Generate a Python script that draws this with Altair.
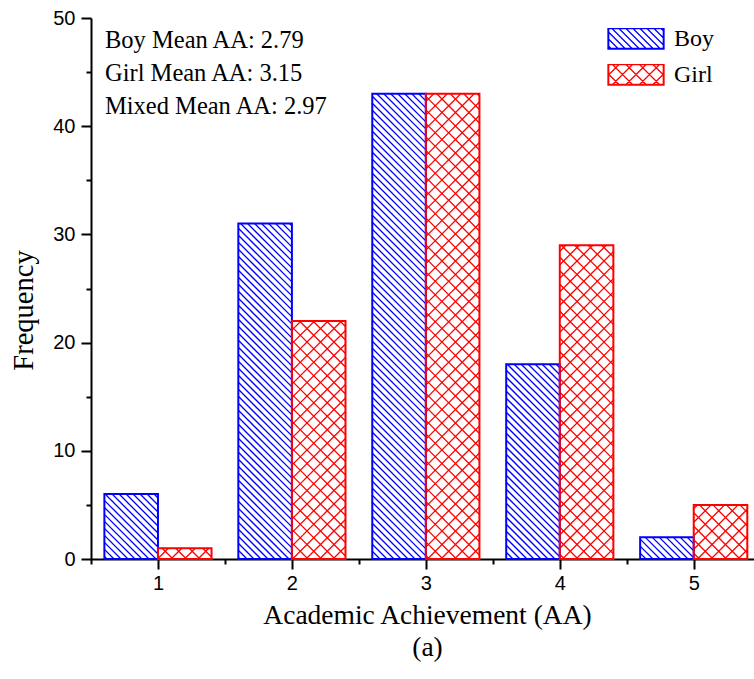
import altair as alt
import numpy as np
import pandas as pd

# ---- data ----------------------------------------------------------------
aa_levels = [1, 2, 3, 4, 5]
boy_freq = [6, 31, 43, 18, 2]
girl_freq = [1, 22, 43, 29, 5]
groups = ["Boy", "Girl"]
group_colors = ["#0000ff", "#ff0000"]
mean_names = ["Boy", "Girl", "Mixed"]
mean_values = [2.79, 3.15, 2.97]
y_major = [0, 10, 20, 30, 40, 50]
y_minor = [5, 15, 25, 35, 45]
x_minor = [0.5, 1.5, 2.5, 3.5, 4.5]

# ---- geometry of the plot area ------------------------------------------
W, H = 663, 541
X_DOM = [0.5, 5.45]
Y_DOM = [0, 50]
BAR = 0.4                      # width of one bar in axis units
KX = W / (X_DOM[1] - X_DOM[0])  # pixels per x unit
KY = H / (Y_DOM[1] - Y_DOM[0])  # pixels per y unit
BOY_STEP = 7.0                  # hatch spacing (px, measured horizontally)
GIRL_STEP = 13.5

colour_of = dict(zip(groups, group_colors))

rows = []
for aa, b, g in zip(aa_levels, boy_freq, girl_freq):
    rows.append({"group": "Boy", "aa": aa, "freq": b, "x0": aa - BAR, "x1": aa})
    rows.append({"group": "Girl", "aa": aa, "freq": g, "x0": aa, "x1": aa + BAR})
bars = pd.DataFrame(rows)
bars["colour"] = bars["group"].map(colour_of)


def hatch_segments(x0, x1, top, step, slopes):
    """45-degree hatch lines clipped to the bar [x0, x1] x [0, top]."""
    px0 = (x0 - X_DOM[0]) * KX
    px1 = (x1 - X_DOM[0]) * KX
    pyt = H - top * KY
    pyb = H
    segs = []
    for s in slopes:  # s = +1 : screen y = x + c ("\"), s = -1 : y = -x + c ("/")
        if s == 1:
            cmin, cmax = pyt - px1, pyb - px0
        else:
            cmin, cmax = pyt + px0, pyb + px1
        for k in range(int(np.ceil(cmin / step)), int(np.floor(cmax / step)) + 1):
            c = k * step
            if s == 1:
                lo, hi = max(px0, pyt - c), min(px1, pyb - c)
            else:
                lo, hi = max(px0, c - pyb), min(px1, c - pyt)
            if hi - lo < 0.5:
                continue
            ya, yb = s * lo + c, s * hi + c
            segs.append((lo / KX + X_DOM[0], (H - ya) / KY,
                         hi / KX + X_DOM[0], (H - yb) / KY))
    return segs


hatch_rows = []
for _, r in bars.iterrows():
    if r["group"] == "Boy":
        segs = hatch_segments(r["x0"], r["x1"], r["freq"], BOY_STEP, [1])
    else:
        segs = hatch_segments(r["x0"], r["x1"], r["freq"], GIRL_STEP, [1, -1])
    for xa, ya, xb, yb in segs:
        hatch_rows.append({"x": xa, "y": ya, "x2": xb, "y2": yb, "colour": r["colour"]})
hatch_df = pd.DataFrame(hatch_rows)


# ---- legend swatches as custom symbol paths (unit box: +-1 wide) -----------
SW, SH = 56.0, 21.0
R = SW / 2.0
HY = SH / 2.0 / R


def swatch_path(step_px, slopes):
    step = step_px / R
    parts = [f"M-1,{-HY:.4f}H1V{HY:.4f}H-1Z",
             f"M-0.975,{-HY + 0.025:.4f}H0.975V{HY - 0.025:.4f}H-0.975Z"]
    for s in slopes:
        cmin, cmax = -HY - 1, HY + 1
        for k in range(int(np.ceil(cmin / step)), int(np.floor(cmax / step)) + 1):
            c = k * step
            if s == 1:
                lo, hi = max(-1, -HY - c), min(1, HY - c)
            else:
                lo, hi = max(-1, c - HY), min(1, c + HY)
            if hi - lo < 0.02:
                continue
            parts.append(f"M{lo:.4f},{s * lo + c:.4f}L{hi:.4f},{s * hi + c:.4f}")
    return "".join(parts)


boy_path = swatch_path(BOY_STEP, [1])
girl_path = swatch_path(GIRL_STEP, [1, -1])

# ---- scales and axes -------------------------------------------------------
x_scale = alt.Scale(domain=X_DOM, nice=False, zero=False)
y_scale = alt.Scale(domain=Y_DOM, nice=False, zero=False)

x_axis = alt.Axis(
    orient="bottom", values=aa_levels, format="d", grid=False, labelAngle=0,
    tickSize=10, tickWidth=2, tickColor="black", domainColor="black", domainWidth=2,
    labelFont="Liberation Sans", labelFontSize=20, labelColor="black", labelPadding=4,
    title=["Academic Achievement (AA)", "(a)"], titleFont="Liberation Serif",
    titleFontSize=27.5, titleFontWeight="normal", titleColor="black",
    titleX=336, titleY=64, titleAlign="center", titleBaseline="alphabetic",
    titleLineHeight=32,
)
y_axis = alt.Axis(
    orient="left", values=y_major, format="d", grid=False,
    tickSize=10, tickWidth=2, tickColor="black", domainColor="black", domainWidth=2,
    labelFont="Liberation Sans", labelFontSize=20, labelColor="black", labelPadding=6,
    title="Frequency", titleFont="Liberation Serif", titleFontSize=28.5,
    titleFontWeight="normal", titleColor="black", titleAngle=270,
    titleX=-53, titleY=292, titleAlign="center", titleBaseline="bottom",
)
x_minor_axis = alt.Axis(
    orient="bottom", values=x_minor, labels=False, domain=False, grid=False,
    tickSize=5, tickWidth=2, tickColor="black", title=None,
)
y_minor_axis = alt.Axis(
    orient="left", values=y_minor, labels=False, domain=False, grid=False,
    tickSize=5, tickWidth=2, tickColor="black", title=None,
)

legend = alt.Legend(
    title=None, orient="none", legendX=516, legendY=10, padding=0,
    symbolSize=SW * SW, symbolStrokeWidth=1.3, symbolFillColor="transparent",
    symbolOpacity=1, clipHeight=SH, rowPadding=11,
    labelFont="Liberation Serif", labelFontSize=24, labelColor="black", labelOffset=9,
)

# ---- layers ---------------------------------------------------------------
hatch_layer = alt.Chart(hatch_df).mark_rule(strokeWidth=1.3).encode(
    x=alt.X("x:Q", scale=x_scale, axis=None),
    y=alt.Y("y:Q", scale=y_scale, axis=None),
    x2="x2:Q",
    y2="y2:Q",
    stroke=alt.Stroke("colour:N", scale=None),
)

bar_layer = alt.Chart(bars).mark_rect(fill="transparent", strokeWidth=2).encode(
    x=alt.X("x0:Q", scale=x_scale, axis=x_axis),
    x2="x1:Q",
    y=alt.Y("freq:Q", scale=y_scale, axis=y_axis),
    y2=alt.datum(0),
    stroke=alt.Stroke("colour:N", scale=None),
)

legend_layer = alt.Chart(bars).mark_point(opacity=0, filled=False).encode(
    x=alt.X("aa:Q", scale=x_scale, axis=x_minor_axis),
    y=alt.Y("freq:Q", scale=y_scale, axis=y_minor_axis),
    color=alt.Color("group:N", scale=alt.Scale(domain=groups, range=group_colors), legend=legend),
    shape=alt.Shape("group:N", scale=alt.Scale(domain=groups, range=[boy_path, girl_path]), legend=legend),
)

mean_lines = [f"{n} Mean AA: {v:.2f}" for n, v in zip(mean_names, mean_values)]
note_layer = alt.Chart(pd.DataFrame({"k": [0]})).mark_text(
    text=mean_lines, align="left", baseline="alphabetic", font="Liberation Serif",
    fontSize=24.5, lineHeight=33, color="black",
).encode(x=alt.value(14), y=alt.value(30))

chart = (
    alt.layer(hatch_layer, bar_layer, legend_layer, note_layer)
    .resolve_axis(x="independent", y="independent")
    .properties(
        width=W, height=H,
        padding={"left": 91, "top": 18, "right": 0, "bottom": 120},
        autosize=alt.AutoSizeParams(type="none"),
        background="white",
    )
    .configure_view(stroke=None)
)

chart.save("out.html", embed_options={"renderer": "svg", "actions": False})
